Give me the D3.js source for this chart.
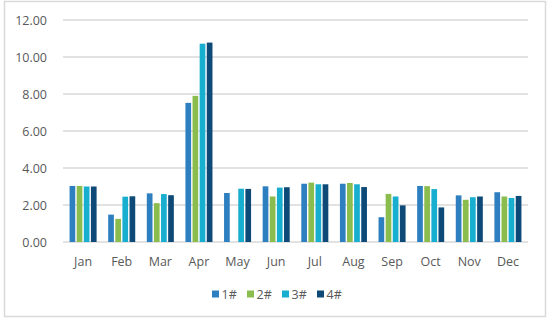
<!DOCTYPE html>
<html>
<head>
<meta charset="utf-8">
<script src="https://cdn.jsdelivr.net/npm/d3@7"></script>
<style>
  body { margin: 0; background: #fff; }
  text { font-family: "Open Sans", sans-serif; fill: #595959; }
  .grid line { stroke: #d9d9d9; stroke-width: 1.5; }
</style>
</head>
<body>
<svg id="chart" width="550" height="321"></svg>
<script>
var months = ["Jan", "Feb", "Mar", "Apr", "May", "Jun", "Jul", "Aug", "Sep", "Oct", "Nov", "Dec"];
var seriesNames = ["1#", "2#", "3#", "4#"];
var s1 = [3.03, 1.48, 2.63, 7.52, 2.65, 3.01, 3.15, 3.15, 1.34, 3.03, 2.52, 2.69];
var s2 = [3.03, 1.25, 2.10, 7.90, 0,    2.46, 3.21, 3.19, 2.60, 3.02, 2.28, 2.46];
var s3 = [3.00, 2.45, 2.59, 10.72, 2.88, 2.94, 3.12, 3.12, 2.46, 2.86, 2.42, 2.38];
var s4 = [3.00, 2.47, 2.53, 10.78, 2.87, 2.96, 3.12, 2.97, 1.98, 1.87, 2.46, 2.49];
var yTicks = [0, 2, 4, 6, 8, 10, 12];
var colors = ["#2e7fc0", "#8bbd4e", "#17aecf", "#0d4a78"];

(function() {
    var svg = d3.select("#chart");
    var allSeries = [s1, s2, s3, s4];

    // outer frame
    svg.append("rect")
        .attr("x", 4.5).attr("y", 1.5)
        .attr("width", 541).attr("height", 315)
        .attr("fill", "none")
        .attr("stroke", "#d9d9d9")
        .attr("stroke-width", 1.5);

    var x0 = d3.scaleBand()
        .domain(months)
        .range([63, 528])
        .paddingInner(0.3)
        .paddingOuter(0.17);

    var x1 = d3.scaleBand()
        .domain(seriesNames)
        .range([0, x0.bandwidth()])
        .paddingInner(0.2);

    var y = d3.scaleLinear()
        .domain([0, 12])
        .range([242, 20]);

    // gridlines
    var grid = svg.append("g").attr("class", "grid");
    grid.selectAll("line")
        .data(yTicks)
        .enter()
        .append("line")
        .attr("x1", 63)
        .attr("x2", 528)
        .attr("y1", function(d) { return y(d); })
        .attr("y2", function(d) { return y(d); });

    // y labels
    svg.append("g").selectAll("text")
        .data(yTicks)
        .enter()
        .append("text")
        .attr("x", 47)
        .attr("y", function(d) { return y(d) + 4.5; })
        .attr("text-anchor", "end")
        .style("font-size", "12.5px")
        .text(function(d) { return d.toFixed(2); });

    // bars
    var groups = svg.append("g").selectAll("g")
        .data(months)
        .enter()
        .append("g")
        .attr("transform", function(d) { return "translate(" + x0(d) + ",0)"; });

    groups.selectAll("rect")
        .data(function(m, i) {
            return seriesNames.map(function(s, j) {
                return { key: s, idx: j, value: allSeries[j][i] };
            });
        })
        .enter()
        .append("rect")
        .attr("x", function(d) { return x1(d.key); })
        .attr("y", function(d) { return y(d.value); })
        .attr("width", x1.bandwidth())
        .attr("height", function(d) { return y(0) - y(d.value); })
        .attr("fill", function(d) { return colors[d.idx]; });

    // month labels
    svg.append("g").selectAll("text")
        .data(months)
        .enter()
        .append("text")
        .attr("x", function(d) { return x0(d) + x0.bandwidth() / 2; })
        .attr("y", 266)
        .attr("text-anchor", "middle")
        .style("font-size", "12.5px")
        .text(function(d) { return d; });

    // legend
    var legend = svg.append("g").attr("transform", "translate(212,0)");
    var items = legend.selectAll("g")
        .data(seriesNames)
        .enter()
        .append("g")
        .attr("transform", function(d, i) { return "translate(" + (i * 35) + ",0)"; });
    items.append("rect")
        .attr("x", 0).attr("y", 290.5)
        .attr("width", 7).attr("height", 7)
        .attr("fill", function(d, i) { return colors[i]; });
    items.append("text")
        .attr("x", 9.5)
        .attr("y", 298.5)
        .style("font-size", "12.5px")
        .text(function(d) { return d; });
})();
</script>
</body>
</html>
